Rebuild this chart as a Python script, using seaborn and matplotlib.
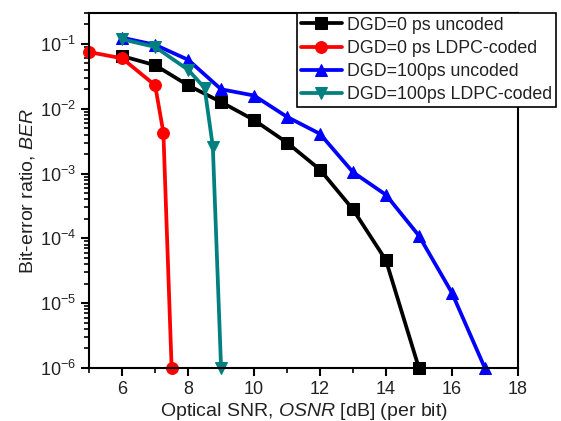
import numpy as np
import pandas as pd
import matplotlib
matplotlib.use('Agg')
import matplotlib.pyplot as plt
import seaborn as sns

# valores
osnr_0_unc = [6, 7, 8, 9, 10, 11, 12, 13, 14, 15]
ber_0_unc = [0.065, 0.047, 0.023, 0.0127, 0.0067, 0.003, 0.00115, 2.8e-4, 4.6e-5, 1e-6]

osnr_0_ldpc = [5, 6, 7, 7.25, 7.5]
ber_0_ldpc = [0.075, 0.06, 0.023, 0.0043, 1e-6]

osnr_100_unc = [6, 7, 8, 9, 10, 11, 12, 13, 14, 15, 16, 17]
ber_100_unc = [0.125, 0.097, 0.057, 0.02, 0.016, 0.0075, 0.0041, 0.00105, 4.7e-4, 1.1e-4, 1.45e-5, 1e-6]

osnr_100_ldpc = [6, 7, 8, 8.5, 8.75, 9]
ber_100_ldpc = [0.118, 0.09, 0.04, 0.021, 0.0026, 1e-6]

sns.set_style('ticks')
plt.rcParams['font.family'] = ['Liberation Sans', 'DejaVu Sans']
plt.rcParams['mathtext.fontset'] = 'custom'
plt.rcParams['mathtext.it'] = 'Liberation Sans:italic'
plt.rcParams['mathtext.rm'] = 'Liberation Sans'

fig = plt.figure(figsize=(5.61, 4.21), dpi=100)
ax = fig.add_axes([0.159, 0.126, 0.764, 0.843])

series = [
    (osnr_0_unc, ber_0_unc, 'DGD=0 ps uncoded', 'black', 's'),
    (osnr_0_ldpc, ber_0_ldpc, 'DGD=0 ps LDPC-coded', '#ff0000', 'o'),
    (osnr_100_unc, ber_100_unc, 'DGD=100ps uncoded', '#0000ff', '^'),
    (osnr_100_ldpc, ber_100_ldpc, 'DGD=100ps LDPC-coded', '#008080', 'v'),
]
for x, y, nome, cor, mk in series:
    df = pd.DataFrame({'osnr': x, 'ber': y})
    sns.lineplot(data=df, x='osnr', y='ber', ax=ax, color=cor, marker=mk,
                 markersize=8.5, markeredgecolor=cor, linewidth=2.7, label=nome,
                 sort=False, clip_on=False)

ax.set_yscale('log')
ax.set_xlim(5, 18)
ax.set_ylim(1e-6, 0.3)
ax.set_xticks([6, 8, 10, 12, 14, 16, 18])
ax.set_xticks(np.arange(5, 19, 1), minor=True)
ax.set_yticks([1e-6, 1e-5, 1e-4, 1e-3, 1e-2, 1e-1])
ax.tick_params(axis='both', which='major', labelsize=13, width=1.5, length=6, direction='out', color='black', labelcolor='#222222')
ax.tick_params(axis='both', which='minor', width=1.2, length=3.5, direction='out', color='black')
for s in ax.spines.values():
    s.set_linewidth(1.5)
    s.set_color('black')

ax.set_xlabel('Optical SNR, $\\mathit{OSNR}$ [dB] (per bit)', fontsize=14, labelpad=2, color='#222222')
ax.set_ylabel('Bit-error ratio, $\\mathit{BER}$', fontsize=14, labelpad=2, color='#222222')

leg = ax.legend(loc='upper left', bbox_to_anchor=(0.485, 1.0), fontsize=12.8,
                frameon=True, fancybox=False, edgecolor='black', framealpha=1,
                borderpad=0.2, labelspacing=0.35, handlelength=2.3, handletextpad=0.3,
                borderaxespad=0)
leg.get_frame().set_linewidth(1.2)
for t in leg.get_texts():
    t.set_color('#222222')

fig.savefig('out.png', dpi=100)
